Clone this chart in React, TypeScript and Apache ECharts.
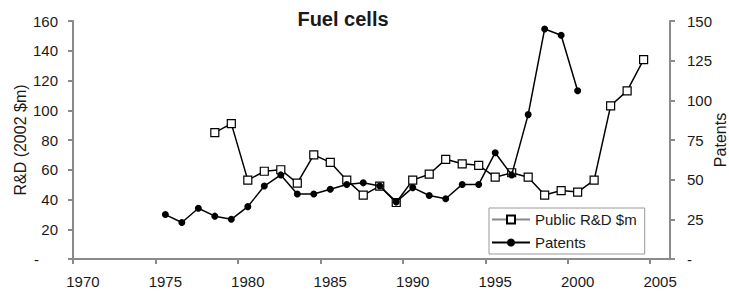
import React, { useEffect, useRef } from "react";
import * as echarts from "echarts";

const rdYears = [1978, 1979, 1980, 1981, 1982, 1983, 1984, 1985, 1986, 1987, 1988, 1989, 1990, 1991, 1992, 1993, 1994, 1995, 1996, 1997, 1998, 1999, 2000, 2001, 2002, 2003, 2004];
const rdValues = [85, 91, 53, 59, 60, 51, 70, 65, 53, 43, 49, 38, 53, 57, 67, 64, 63, 55, 58, 55, 43, 46, 45, 53, 103, 113, 134];
const patentYears = [1975, 1976, 1977, 1978, 1979, 1980, 1981, 1982, 1983, 1984, 1985, 1986, 1987, 1988, 1989, 1990, 1991, 1992, 1993, 1994, 1995, 1996, 1997, 1998, 1999, 2000];
const patentValues = [28, 23, 32, 27, 25, 33, 46, 53, 41, 41, 44, 47, 48, 46, 36, 45, 40, 38, 47, 47, 67, 53, 91, 145, 141, 106];
const xTickLabels = [1970, 1975, 1980, 1985, 1990, 1995, 2000, 2005];
const leftTicks = [0, 20, 40, 60, 80, 100, 120, 140, 160];
const rightTicks = [0, 25, 50, 75, 100, 125, 150];

const FONT = "'Liberation Sans', Arial, Helvetica, sans-serif";
const TEXT = "#1a1a1a";
const AXIS = "#8a8a8a";

export default function App() {
  const ref = useRef<HTMLDivElement>(null);
  useEffect(() => {
    if (!ref.current) return;
    const chart = echarts.init(ref.current, null, { renderer: "svg" });
    const axisLine = { show: true, lineStyle: { color: AXIS, width: 2 } };
    chart.setOption({
      animation: false,
      backgroundColor: "#fff",
      textStyle: { fontFamily: FONT },
      title: {
        text: "Fuel cells",
        left: 343,
        top: 9,
        padding: 0,
        textAlign: "center",
        textStyle: { fontSize: 20, fontWeight: "bold", color: TEXT, fontFamily: FONT },
      },
      grid: { left: 73, right: 59, top: 21, bottom: 33, outerBoundsMode: "none" },
      legend: {
        orient: "vertical",
        left: 489,
        top: 208,
        padding: [4, 8, 4, 2],
        itemGap: 8,
        itemWidth: 38,
        itemHeight: 10,
        borderColor: "#999",
        borderWidth: 1,
        backgroundColor: "#fff",
        textStyle: { fontSize: 15, color: TEXT, fontFamily: FONT },
        data: [
          { name: "Public R&D $m", lineStyle: { color: "#888" } },
          { name: "Patents" },
        ],
      },
      xAxis: {
        type: "value",
        min: 1969.4,
        max: 2005.6,
        axisLine,
        splitLine: { show: false },
        axisTick: {
          show: true,
          length: 5,
          lineStyle: { color: AXIS, width: 2 },
          customValues: xTickLabels.map((v) => v - 0.6),
        },
        axisLabel: {
          customValues: xTickLabels,
          fontSize: 15,
          color: TEXT,
          margin: 15,
          fontFamily: FONT,
          formatter: (v: number) => String(Math.round(v)),
        },
      },
      yAxis: [
        {
          type: "value",
          min: 0,
          max: 160,
          interval: 20,
          position: "left",
          name: "R&D (2002 $m)",
          nameLocation: "middle",
          nameGap: 45,
          nameMoveOverlap: false,
          nameTextStyle: { fontSize: 16, lineHeight: 16, color: TEXT, fontFamily: FONT },
          axisLine,
          splitLine: { show: false },
          axisTick: { show: true, length: 5, lineStyle: { color: AXIS, width: 2 } },
          axisLabel: {
            customValues: leftTicks,
            fontSize: 15,
            color: TEXT,
            margin: 15,
            fontFamily: FONT,
            formatter: (v: number) => (v === 0 ? "{d|-}" : String(v)),
            rich: { d: { fontSize: 15, color: TEXT, padding: [0, 19, 0, 0], fontFamily: FONT } },
          },
        },
        {
          type: "value",
          min: 0,
          max: 150,
          interval: 25,
          position: "right",
          name: "Patents",
          nameLocation: "middle",
          nameGap: 43,
          nameMoveOverlap: false,
          nameTextStyle: { fontSize: 16, lineHeight: 15, color: TEXT, fontFamily: FONT },
          axisLine,
          splitLine: { show: false },
          axisTick: { show: true, length: 5, lineStyle: { color: AXIS, width: 2 } },
          axisLabel: {
            customValues: rightTicks,
            fontSize: 15,
            color: TEXT,
            margin: 17,
            fontFamily: FONT,
            formatter: (v: number) => (v === 0 ? "-" : String(v)),
          },
        },
      ],
      series: [
        {
          name: "Public R&D $m",
          type: "line",
          yAxisIndex: 0,
          data: rdYears.map((y, i) => [y, rdValues[i]]),
          symbol: "rect",
          symbolSize: 8,
          showAllSymbol: true,
          lineStyle: { color: "#000", width: 1.5 },
          itemStyle: { color: "#fff", borderColor: "#000", borderWidth: 1.2 },
          emphasis: { disabled: true },
          z: 2,
        },
        {
          name: "Patents",
          type: "line",
          yAxisIndex: 1,
          data: patentYears.map((y, i) => [y, patentValues[i]]),
          symbol: "circle",
          symbolSize: 7,
          showAllSymbol: true,
          lineStyle: { color: "#000", width: 1.5 },
          itemStyle: { color: "#000", borderColor: "#000", borderWidth: 0 },
          emphasis: { disabled: true },
          z: 3,
        },
      ],
    });
    return () => chart.dispose();
  }, []);
  return (
    <div
      ref={ref}
      style={{ position: "fixed", left: 0, top: 0, width: 729, height: 292, background: "#fff" }}
    />
  );
}
